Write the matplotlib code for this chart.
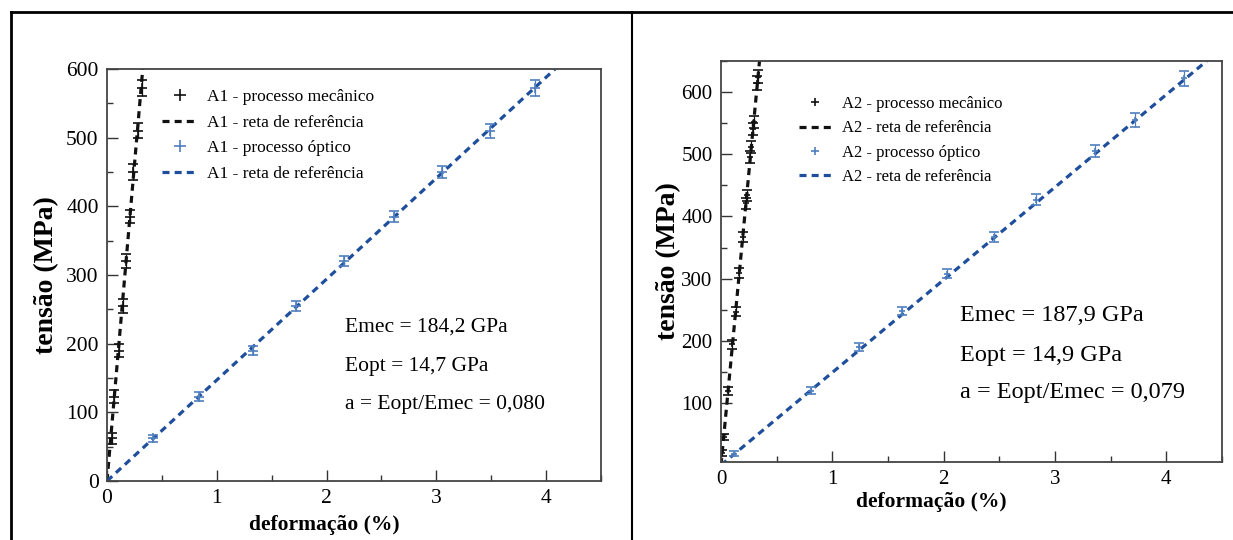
import matplotlib.pyplot as plt
import numpy as np
from matplotlib.lines import Line2D
from matplotlib.ticker import MultipleLocator

plt.rcParams['font.family'] = ['Liberation Serif', 'DejaVu Serif']

# A1 - left panel
a1_mec_x = [0.043, 0.067, 0.110, 0.144, 0.174, 0.212, 0.240, 0.280, 0.316]
a1_mec_y = [62, 123, 190, 255, 320, 385, 450, 510, 572]
a1_mec_err = [8, 9, 9, 10, 10, 10, 11, 11, 12]
a1_opt_x = [0.42, 0.84, 1.33, 1.72, 2.16, 2.61, 3.05, 3.49, 3.90]
a1_opt_y = [62, 123, 190, 255, 320, 385, 450, 510, 572]
a1_opt_err = [5, 6, 6, 7, 7, 8, 9, 10, 12]
a1_emec = 184.2
a1_eopt = 14.7

# A2 - right panel
a2_mec_x = [0.011, 0.025, 0.063, 0.103, 0.131, 0.164, 0.195, 0.224, 0.231, 0.264, 0.272, 0.288, 0.294, 0.327, 0.333]
a2_mec_y = [20, 45, 119, 194, 247, 309, 367, 421, 434, 496, 512, 541, 552, 615, 625]
a2_mec_err = [5, 5, 6, 7, 7, 8, 8, 9, 9, 10, 10, 10, 10, 11, 11]
a2_opt_x = [0.12, 0.81, 1.24, 1.63, 2.03, 2.45, 2.83, 3.36, 3.72, 4.16]
a2_opt_y = [18, 120, 190, 248, 308, 367, 427, 505, 555, 622]
a2_opt_err = [4, 5, 6, 6, 7, 8, 9, 10, 11, 12]
a2_emec = 187.9
a2_eopt = 14.9

black = '#111111'
blue_line = '#1f4f9c'
blue_pt = '#4f7fbf'

fig = plt.figure(figsize=(12.33, 5.4), dpi=100)

# table frame around the two figures
fig.add_artist(Line2D([11/1233, 1], [1 - 12/540, 1 - 12/540], color='black', lw=2))
fig.add_artist(Line2D([11/1233, 11/1233], [0, 1 - 12/540], color='black', lw=2))
fig.add_artist(Line2D([632/1233, 632/1233], [0, 1 - 12/540], color='black', lw=1.5))


def panel(rect, name, mx, my, merr, ox, oy, oerr, emec, eopt, ylim, txt_xy, txt_size,
          leg_font, leg_anchor, leg_space, ms, tick_size, xpad, ypad, xlab_pos):
    ax = fig.add_axes(rect)
    ymax = ylim[1]
    ax.plot([0, ymax / (emec * 10)], [0, ymax], ls=(0, (2.2, 1.6)), color=black, lw=2.3)
    ax.plot([0, ymax / (eopt * 10)], [0, ymax], ls=(0, (2.2, 1.6)), color=blue_line, lw=2.3)
    ax.errorbar(mx, my, yerr=merr, fmt='+', color=black, ms=ms, mew=1.2,
                elinewidth=0.9, capsize=3.5, capthick=0.9)
    ax.errorbar(ox, oy, yerr=oerr, fmt='+', color=blue_pt, ms=ms, mew=1.2,
                elinewidth=0.9, capsize=3.5, capthick=0.9)
    ax.set_xlim(0, 4.5)
    ax.set_ylim(*ylim)
    ax.xaxis.set_major_locator(MultipleLocator(1))
    ax.xaxis.set_minor_locator(MultipleLocator(0.5))
    ax.yaxis.set_major_locator(MultipleLocator(100))
    ax.yaxis.set_minor_locator(MultipleLocator(50))
    ax.tick_params(which='both', direction='in', labelsize=tick_size, color='#333333', width=1)
    ax.tick_params(which='major', length=8, pad=6)
    ax.tick_params(which='minor', length=4)
    for s in ax.spines.values():
        s.set_color('#444444')
        s.set_linewidth(1.3)
    ax.set_xlabel('deformação (%)', fontsize=15.5, fontweight='bold', labelpad=xpad)
    ax.xaxis.label.set_x(xlab_pos)
    ax.set_ylabel('tensão (MPa)', fontsize=20, fontweight='bold', labelpad=ypad)

    handles = [
        Line2D([], [], ls='none', marker='+', color=black, ms=ms + 2, mew=1.2),
        Line2D([], [], ls=(0, (2.2, 1.6)), color=black, lw=2.3),
        Line2D([], [], ls='none', marker='+', color=blue_pt, ms=ms + 2, mew=1.2),
        Line2D([], [], ls=(0, (2.2, 1.6)), color=blue_line, lw=2.3),
    ]
    labels = [name + ' - processo mecânico', name + ' - reta de referência',
              name + ' - processo óptico', name + ' - reta de referência']
    ax.legend(handles, labels, loc='upper left', bbox_to_anchor=leg_anchor, frameon=False,
              fontsize=leg_font, handlelength=2.0, handletextpad=0.6, labelspacing=leg_space)

    tx, ty = txt_xy
    ax.text(tx, ty[0], 'Emec = %s GPa' % str(emec).replace('.', ','), fontsize=txt_size, va='center')
    ax.text(tx, ty[1], 'Eopt = %s GPa' % str(eopt).replace('.', ','), fontsize=txt_size, va='center')
    ratio = '%.3f' % (eopt / emec)
    ax.text(tx, ty[2], 'a = Eopt/Emec = ' + ratio.replace('.', ','), fontsize=txt_size, va='center')
    return ax


ax1 = panel([107/1233, 1 - 481/540, 494/1233, 412/540], 'A1',
            a1_mec_x, a1_mec_y, a1_mec_err, a1_opt_x, a1_opt_y, a1_opt_err,
            a1_emec, a1_eopt, (0, 600), (2.17, (224, 167, 111)), 15.5,
            12.5, (0.08, 0.99), 0.55, 7, 15.5, 5, 5, 0.44)

ax2 = panel([721/1233, 1 - 462/540, 501/1233, 401/540], 'A2',
            a2_mec_x, a2_mec_y, a2_mec_err, a2_opt_x, a2_opt_y, a2_opt_err,
            a2_emec, a2_eopt, (5, 650), (2.15, (240, 177, 116)), 17.5,
            12, (0.125, 0.95), 0.5, 4, 15, 2, 0, 0.42)

fig.savefig('out.png', dpi=100)
